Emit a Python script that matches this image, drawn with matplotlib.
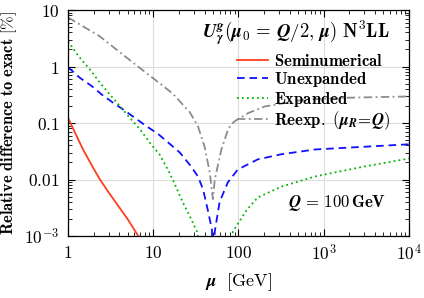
import matplotlib
matplotlib.use("Agg")
import matplotlib.pyplot as plt
from matplotlib.ticker import LogLocator, FixedLocator, FixedFormatter, NullFormatter

plt.rcParams['mathtext.fontset'] = 'cm'
plt.rcParams['lines.scale_dashes'] = False

# ---- data ----
semi_mu = [1, 1.2, 1.5, 2, 2.37, 3, 4, 5, 6.67, 7.5]
semi_val = [0.1236, 0.069, 0.034, 0.0155, 0.01, 0.0059, 0.0032, 0.002, 0.001, 0.0007]

unexp_mu = [1, 1.38, 1.9, 2.48, 3.4, 4.45, 6.1, 8.3, 11.4, 15, 20.5, 27, 33.5, 38.4,
            43.6, 48.8, 50, 52.7, 60, 75, 98, 168, 320, 790, 3000, 10000]
unexp_val = [0.97, 0.63, 0.45, 0.32, 0.227, 0.173, 0.123, 0.088, 0.064, 0.045, 0.030,
             0.018, 0.0113, 0.0067, 0.0029, 0.0013, 0.0002, 0.0012, 0.0040, 0.0089,
             0.015, 0.0227, 0.028, 0.034, 0.038, 0.042]

exp_mu = [1, 1.33, 1.81, 2.37, 3.1, 4.07, 5.33, 7, 9.2, 12, 15, 17, 22.3, 27, 32.5,
          38, 75, 86, 125, 168, 320, 790, 3000, 10000]
exp_val = [2.8, 1.52, 0.885, 0.515, 0.32, 0.198, 0.123, 0.077, 0.044, 0.027, 0.0145,
           0.0098, 0.0039, 0.0022, 0.0012, 0.0004, 0.0004, 0.0012, 0.0029, 0.0048,
           0.0075, 0.0113, 0.017, 0.0235]

reexp_mu = [1, 2.37, 4.45, 8, 12, 17, 27, 33.5, 40, 46, 50, 52.7, 63, 75.5, 82, 90.6,
            130, 203, 600, 1900, 10000]
reexp_val = [7.4, 3.4, 1.6, 0.8, 0.5, 0.33, 0.153, 0.087, 0.038, 0.0134, 0.0045, 0.01,
             0.034, 0.077, 0.094, 0.108, 0.15, 0.196, 0.26, 0.28, 0.295]

x_ticks = [1, 10, 100, 1000, 10000]
x_labels = [r'$\mathbf{1}$', r'$\mathbf{10}$', r'$\mathbf{100}$',
            r'$\mathbf{10^3}$', r'$\mathbf{10^4}$']
y_ticks = [0.001, 0.01, 0.1, 1, 10]
y_labels = [r'$\mathbf{10^{-3}}$', r'$\mathbf{0.01}$', r'$\mathbf{0.1}$',
            r'$\mathbf{1}$', r'$\mathbf{10}$']

labels = [r'$\mathbf{Seminumerical}$', r'$\mathbf{Unexpanded}$',
          r'$\mathbf{Expanded}$',
          r'$\mathbf{Reexp.\ (}\mathbfit{\mu}_{\mathbfit{R}}\mathbf{\!=\!}\mathbfit{Q}\mathbf{)}$']

# ---- figure ----
fig = plt.figure(figsize=(4.24, 2.98), dpi=100)
ax = fig.add_axes([68/424, 62/298, 341/424, 226/298])
ax.set_xscale('log')
ax.set_yscale('log')
ax.set_xlim(1, 1e4)
ax.set_ylim(1e-3, 10)

ax.plot(semi_mu, semi_val, color='#ff3d1f', lw=1.3, label=labels[0])
ax.plot(unexp_mu, unexp_val, color='#1010ff', lw=1.3, dashes=(5.5, 3.5), label=labels[1])
ax.plot(exp_mu, exp_val, color='#00b400', lw=1.3, dashes=(1.3, 2.3), label=labels[2])
ax.plot(reexp_mu, reexp_val, color='#8c8c8c', lw=1.3, dashes=(6, 2.5, 1.3, 2.5), label=labels[3])

ax.xaxis.set_major_locator(FixedLocator(x_ticks))
ax.xaxis.set_major_formatter(FixedFormatter(x_labels))
ax.yaxis.set_major_locator(FixedLocator(y_ticks))
ax.yaxis.set_major_formatter(FixedFormatter(y_labels))
ax.xaxis.set_minor_locator(LogLocator(base=10, subs=range(2, 10), numticks=20))
ax.yaxis.set_minor_locator(LogLocator(base=10, subs=range(2, 10), numticks=20))
ax.xaxis.set_minor_formatter(NullFormatter())
ax.yaxis.set_minor_formatter(NullFormatter())
ax.tick_params(which='both', direction='in', top=True, right=True, labelsize=12.5)
ax.tick_params(which='major', length=5, width=0.8, pad=6)
ax.tick_params(which='minor', length=3, width=0.6)
ax.grid(True, which='major', color='#dcdcdc', lw=0.8)
ax.set_axisbelow(True)
for s in ax.spines.values():
    s.set_linewidth(0.9)

ax.set_xlabel(r'$\mathbfit{\mu}\ \ \mathrm{[GeV]}$', fontsize=13, labelpad=5)
ax.set_ylabel(r'$\mathbf{Relative\ difference\ to\ exact}\ \mathrm{[\%]}$', fontsize=11.8, labelpad=4)

ax.text(0.944, 0.898,
        r'$\mathbfit{U}_{\mathbfit{\gamma}}^{\mathbfit{g}}\mathbf{(}\mathbfit{\mu}_{\mathbf{0}}'
        r'\mathbf{\,=\,}\mathbfit{Q}\mathbf{/2,\,}\mathbfit{\mu}\mathbf{)}\ \mathbf{N^3LL}$',
        transform=ax.transAxes, ha='right', va='center', fontsize=13.5)
ax.text(0.933, 0.146, r'$\mathbfit{Q}\mathbf{\,=\,100\,GeV}$',
        transform=ax.transAxes, ha='right', va='center', fontsize=12)

ax.legend(loc='upper left', bbox_to_anchor=(0.496, 0.815), frameon=False,
          fontsize=12, handlelength=1.85, handletextpad=0.35, labelspacing=0.03,
          borderpad=0, borderaxespad=0)

fig.savefig('out.png', dpi=100)
